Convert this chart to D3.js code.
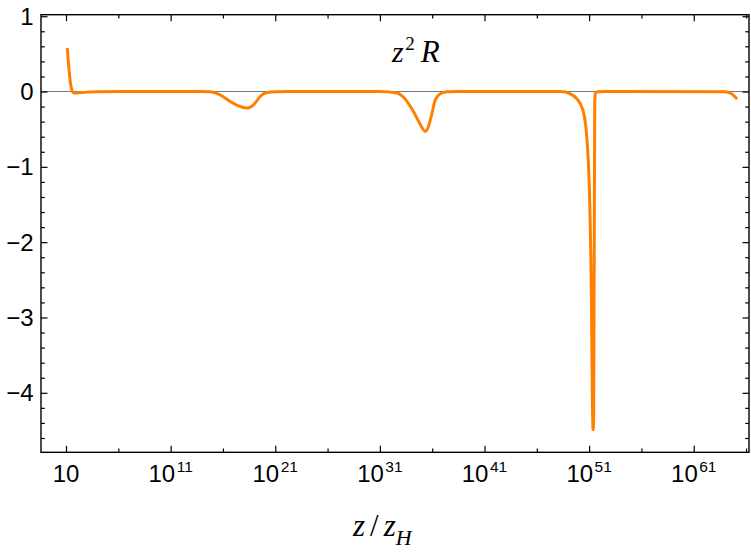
<!DOCTYPE html>
<html>
<head>
<meta charset="utf-8">
<script src="https://cdn.jsdelivr.net/npm/d3@7"></script>
<style>
  body { margin: 0; background: #fff; }
</style>
</head>
<body>
<div id="chart"></div>
<script>
var logZ = [1.12, 1.19, 1.32, 1.48, 1.67, 1.86, 2.24, 2.98, 4.25, 6.2,
    13.8, 14.77, 15.73, 16.69, 17.48, 18.28, 18.92, 19.56, 20.2, 21.15, 22.4,
    31.0, 32.63, 33.59, 34.22, 34.8, 35.34, 35.65, 35.98, 36.29, 36.77, 37.41, 38.7,
    48.25, 48.73, 49.11, 49.78, 50.40, 50.74, 51.05, 51.22, 51.31, 51.38,
    51.43, 51.47, 51.52, 51.54, 51.62, 51.79, 52.56,
    64.0, 64.41, 64.67, 64.89, 65.15];
// z^2 R
var z2R = [0.576, 0.45, 0.244, 0.066, -0.01, -0.021, -0.017, -0.008, -0.003, 0,
    0, -0.003, -0.044, -0.133, -0.19, -0.22, -0.177, -0.066, -0.013, -0.003, 0,
    0, -0.02, -0.13, -0.27, -0.42, -0.53, -0.46, -0.29, -0.11, -0.03, -0.004, 0,
    -0.001, -0.006, -0.025, -0.09, -0.243, -0.548, -1.44, -2.77, -4.09, -4.49,
    -4.36, -2.77, -0.774, -0.11, -0.017, -0.004, 0,
    -0.003, -0.017, -0.035, -0.064, -0.1];

var xMajorExp = [1, 11, 21, 31, 41, 51, 61];
var xMinorExp = [6, 16, 26, 36, 46, 56, 66];
var yMajor = [-4, -3, -2, -1, 0, 1];
var yMinor = [-4.6, -4.4, -4.2, -3.8, -3.6, -3.4, -3.2, -2.8, -2.6, -2.4, -2.2,
    -1.8, -1.6, -1.4, -1.2, -0.8, -0.6, -0.4, -0.2, 0.2, 0.4, 0.6, 0.8];

var W = 751, H = 556;
var fLeft = 41, fRight = 749, fTop = 14.7, fBottom = 452.3;
var sans = "'Liberation Sans', Arial, sans-serif";
var serif = "'Liberation Serif', 'DejaVu Serif', serif";

var data = logZ.map(function (e, i) {
    return { z: Math.pow(10, e), v: z2R[i] };
});

var svg = d3.select("#chart")
    .append("svg")
    .attr("width", W)
    .attr("height", H);

var x = d3.scaleLog()
    .domain([Math.pow(10, -1.39), Math.pow(10, 66.28)])
    .range([fLeft, fRight]);

var y = d3.scaleLinear()
    .domain([-4.79, 1.02])
    .range([fBottom, fTop]);

var p10 = function (e) { return Math.pow(10, e); };

// zero axis line
svg.append("line")
    .attr("x1", fLeft).attr("x2", fRight)
    .attr("y1", y(0)).attr("y2", y(0))
    .attr("stroke", "#777")
    .attr("stroke-width", 1);

// curve
svg.append("path")
    .datum(data)
    .attr("fill", "none")
    .attr("stroke", "#ff8000")
    .attr("stroke-width", 3)
    .attr("stroke-linejoin", "round")
    .attr("d", d3.line()
        .curve(d3.curveMonotoneX)
        .x(function (d) { return x(d.z); })
        .y(function (d) { return y(d.v); })
    );

// frame ticks (inward, all four sides)
function ticks(axis, vals, size) {
    return axis.tickValues(vals).tickSize(size).tickFormat("");
}
var frame = svg.append("g").attr("class", "frame");
frame.append("g").attr("transform", "translate(0," + fBottom + ")")
    .call(ticks(d3.axisBottom(x), xMajorExp.map(p10), -6.5));
frame.append("g").attr("transform", "translate(0," + fBottom + ")")
    .call(ticks(d3.axisBottom(x), xMinorExp.map(p10), -3.8));
frame.append("g").attr("transform", "translate(0," + fTop + ")")
    .call(ticks(d3.axisTop(x), xMajorExp.map(p10), -6.5));
frame.append("g").attr("transform", "translate(0," + fTop + ")")
    .call(ticks(d3.axisTop(x), xMinorExp.map(p10), -3.8));
frame.append("g").attr("transform", "translate(" + fLeft + ",0)")
    .call(ticks(d3.axisLeft(y), yMajor, -6.5));
frame.append("g").attr("transform", "translate(" + fLeft + ",0)")
    .call(ticks(d3.axisLeft(y), yMinor, -3.8));
frame.append("g").attr("transform", "translate(" + fRight + ",0)")
    .call(ticks(d3.axisRight(y), yMajor, -6.5));
frame.append("g").attr("transform", "translate(" + fRight + ",0)")
    .call(ticks(d3.axisRight(y), yMinor, -3.8));
frame.selectAll("path.domain").remove();
frame.selectAll("text").remove();
frame.selectAll("line").attr("stroke", "#000").attr("stroke-width", 1.2);

svg.append("rect")
    .attr("x", fLeft).attr("y", fTop)
    .attr("width", fRight - fLeft).attr("height", fBottom - fTop)
    .attr("fill", "none")
    .attr("stroke", "#000")
    .attr("stroke-width", 1.4);

// x tick labels
var xl = svg.append("g").selectAll("text")
    .data(xMajorExp)
    .enter()
    .append("text")
    .attr("x", function (d) { return x(p10(d)); })
    .attr("y", 482.3)
    .attr("text-anchor", "middle")
    .style("font-family", sans)
    .style("font-size", "24px");
xl.append("tspan").text("10");
xl.filter(function (d) { return d !== 1; })
    .append("tspan")
    .attr("dx", 1.5)
    .attr("dy", -10.6)
    .style("font-size", "15.5px")
    .text(function (d) { return d; });

// y tick labels
svg.append("g").selectAll("text")
    .data(yMajor)
    .enter()
    .append("text")
    .attr("x", 33.5)
    .attr("y", function (d) { return y(d); })
    .attr("dy", "0.36em")
    .attr("text-anchor", "end")
    .style("font-family", sans)
    .style("font-size", "24px")
    .text(function (d) { return d < 0 ? "\u2212" + (-d) : d; });

// title z^2 R
var t = svg.append("text")
    .attr("x", 392)
    .attr("y", 61.7)
    .style("font-family", serif)
    .style("font-size", "30px");
t.append("tspan").style("font-style", "italic").text("z");
t.append("tspan").attr("dy", -12).attr("dx", 1.5).style("font-size", "19px").text("2");
t.append("tspan").attr("dy", 12).attr("dx", 6).style("font-style", "italic")
    .style("font-size", "31px").text("R");

// x label z/z_H
var xlab = svg.append("text")
    .attr("x", 353)
    .attr("y", 536)
    .style("font-family", serif)
    .style("font-size", "31px");
xlab.append("tspan").style("font-style", "italic").text("z");
xlab.append("tspan").attr("dx", 5).text("/");
xlab.append("tspan").attr("dx", 5).style("font-style", "italic").text("z");
xlab.append("tspan").attr("dy", 9).attr("dx", 0).style("font-style", "italic")
    .style("font-size", "22px").text("H");
</script>
</body>
</html>
